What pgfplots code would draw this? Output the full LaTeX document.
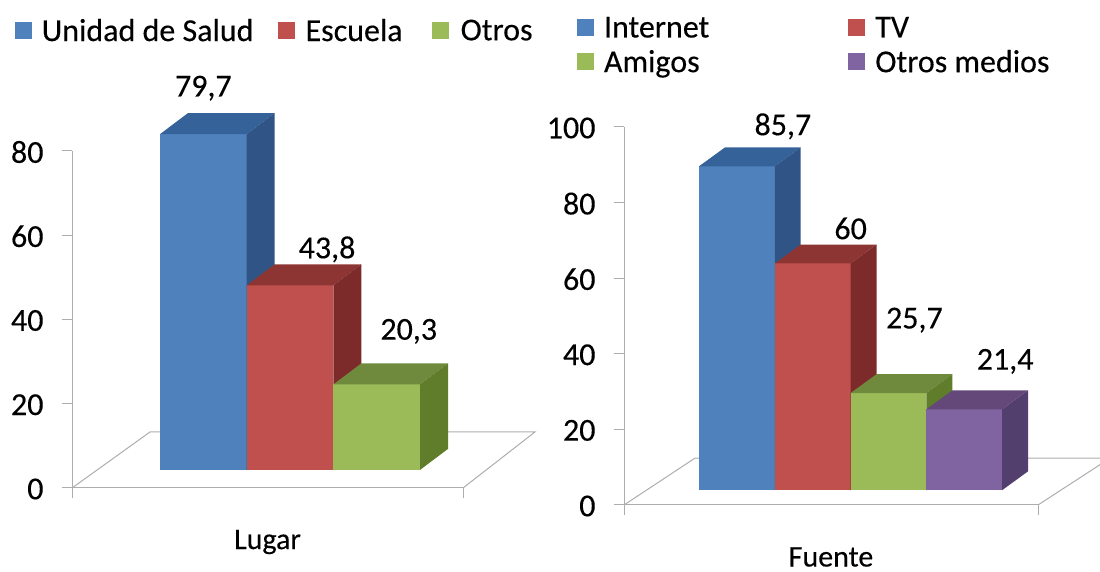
\documentclass[border=0pt]{standalone}
\usepackage{pgfplots}
\pgfplotsset{compat=1.18}
\usepackage{fontspec}
\setmainfont{Carlito}[FakeBold=0.25,AutoFakeBold=0.25]
\newfontface\chartface{Carlito}[FakeBold=0.25]
\definecolor{blueF}{HTML}{4F81BD}\definecolor{blueT}{HTML}{356299}\definecolor{blueS}{HTML}{2F5485}
\definecolor{redF}{HTML}{C0504D}\definecolor{redT}{HTML}{8D3532}\definecolor{redS}{HTML}{7D2A2A}
\definecolor{greenF}{HTML}{9BBB59}\definecolor{greenT}{HTML}{6F8A3D}\definecolor{greenS}{HTML}{5F7D2B}
\definecolor{purpleF}{HTML}{8064A2}\definecolor{purpleT}{HTML}{64487A}\definecolor{purpleS}{HTML}{523F6D}
\definecolor{axisgray}{HTML}{ADADAD}
\newcommand{\chartfont}{\chartface\fontsize{32pt}{36pt}\selectfont}

% One oblique box: slot, value, label, colour prefix, label shift x, label shift y
\newcommand{\boxbar}[6]{%
  \pgfmathsetmacro{\xa}{#1}\pgfmathsetmacro{\xb}{#1+1}%
  \pgfmathsetmacro{\xc}{#1+1+\depthx}\pgfmathsetmacro{\xd}{#1+\depthx}%
  \pgfmathsetmacro{\xm}{#1+0.5}%
  \pgfmathsetmacro{\ytop}{#2+\basey}\pgfmathsetmacro{\ybk}{#2+\basey+\depthy}%
  \pgfmathsetmacro{\ylow}{\basey+\depthy}%
  \addplot[fill=#4F,draw=none,forget plot] coordinates {(\xa,\basey) (\xb,\basey) (\xb,\ytop) (\xa,\ytop)} --cycle;
  \addplot[fill=#4T,draw=none,forget plot] coordinates {(\xa,\ytop) (\xb,\ytop) (\xc,\ybk) (\xd,\ybk)} --cycle;
  \addplot[fill=#4S,draw=none,forget plot] coordinates {(\xb,\basey) (\xc,\ylow) (\xc,\ybk) (\xb,\ytop)} --cycle;
  \addplot[draw=none,forget plot,nodes near coords={#3},
    every node near coord/.style={anchor=center,xshift=#5pt,yshift=#6pt,font=\chartfont,inner sep=0pt}]
    coordinates {(\xm,\ytop)};
}
\pgfplotsset{
  barchart/.style={
    scale only axis, clip=false,
    axis x line=bottom, axis y line=left,
    axis line style={-,draw=axisgray,line width=1pt},
    tick style={draw=axisgray,line width=1pt},
    tick align=outside, major tick length=10pt,
    xticklabels={},
    /pgf/number format/assume math mode=true,
    ticklabel style={font=\chartfont,text=black},
    label style={font=\chartface\fontsize{30pt}{34pt}\selectfont},
    legend cell align=left,
    legend image code/.code={\fill[##1,draw=none] (0pt,-8pt) rectangle (17pt,9pt);},
  },
}
\begin{document}
\begin{tikzpicture}[x=1pt,y=1pt]
\useasboundingbox (0,0) rectangle (1100,572);

% Lugar
\def\depthx{0.323}\def\depthy{5}\def\basey{4.3}
\begin{axis}[barchart,
  at={(72pt,84pt)},anchor=south west,width=391pt,height=337pt,
  xmin=-1.015,xmax=3.495,ymin=0,ymax=80,
  xtick={-1.015,3.495},ytick={0,20,40,60,80},
  xlabel={Lugar},xlabel style={at={(axis description cs:0.5,0)},anchor=center,yshift=-54pt},
  yticklabel style={xshift=-15pt,yshift=-1pt},
  legend columns=3,
  legend style={at={(axis description cs:-0.147,1.357)},anchor=west,draw=none,fill=none,inner sep=0pt,
    nodes={inner sep=0pt,font=\chartfont,anchor=west},
    /tikz/column 1/.style={column sep=10pt},
    /tikz/column 2/.style={column sep=24pt},
    /tikz/column 3/.style={column sep=11pt},
    /tikz/column 4/.style={column sep=29pt},
    /tikz/column 5/.style={column sep=12pt}},
]
\addlegendimage{fill=blueF}\addlegendentry{Unidad de Salud}
\addlegendimage{fill=redF}\addlegendentry{Escuela}
\addlegendimage{fill=greenF}\addlegendentry{Otros}
\addplot[draw=axisgray,line width=1pt,forget plot] coordinates {(-1.015,0) (-0.115,13.3) (4.325,13.3) (3.495,0)};
\boxbar{0}{79.7}{79,7}{blue}{0}{46}
\boxbar{1}{43.8}{43,8}{red}{37}{36}
\boxbar{2}{20.3}{20,3}{green}{32}{53}
\end{axis}

% Fuente
\def\depthx{0.343}\def\depthy{5}\def\basey{3.9}
\begin{axis}[barchart,
  at={(624pt,67pt)},anchor=south west,width=414pt,height=378pt,
  xmin=-0.99,xmax=4.475,ymin=0,ymax=100,
  xtick={-0.99,4.475},ytick={0,20,...,100},
  xlabel={Fuente},xlabel style={at={(axis description cs:0.5,0)},anchor=center,yshift=-52pt},
  yticklabel style={xshift=-15pt,yshift=-1pt},
  legend columns=2,
  legend style={at={(axis description cs:-0.114,1.216)},anchor=west,draw=none,fill=none,inner sep=0pt,
    nodes={inner sep=0pt,font=\chartfont,anchor=west},
    row sep=11pt,
    /tikz/column 1/.style={column sep=10pt},
    /tikz/column 2/.style={column sep=139pt},
    /tikz/column 3/.style={column sep=10pt}},
]
\addlegendimage{fill=blueF}\addlegendentry{Internet}
\addlegendimage{fill=redF}\addlegendentry{TV}
\addlegendimage{fill=greenF}\addlegendentry{Amigos}
\addlegendimage{fill=purpleF}\addlegendentry{Otros medios}
\addplot[draw=axisgray,line width=1pt,forget plot] coordinates {(-0.99,0) (-0.053,12.4) (5.426,12.4) (4.475,0)};
\boxbar{0}{85.7}{85,7}{blue}{46}{40}
\boxbar{1}{60}{60}{red}{38}{35}
\boxbar{2}{25.7}{25,7}{green}{26}{73}
\boxbar{3}{21.4}{21,4}{purple}{41}{48}
\end{axis}
\end{tikzpicture}
\end{document}
